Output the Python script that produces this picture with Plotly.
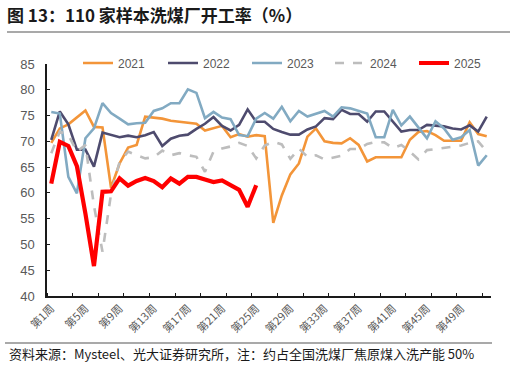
import plotly.graph_objects as go

weeks = list(range(1, 53))
tick_weeks = [1, 5, 9, 13, 17, 21, 25, 29, 33, 37, 41, 45, 49]
tick_labels = [f"第{w}周" for w in tick_weeks]

y2021 = [69.7, 72.5, 73.3, 74.6, 76.0, 72.8, 72.7, 61.0, 65.7, 68.8, 69.3, 74.8, 74.6, 74.4,
         74.0, 73.8, 73.6, 73.4, 72.1, 72.6, 73.0, 70.8, 71.4, 70.9, 71.2, 71.0, 54.2, 59.5,
         63.6, 65.7, 70.9, 72.5, 70.0, 69.7, 69.6, 70.6, 69.3, 66.1, 66.9, 66.9, 66.9, 66.9,
         70.3, 71.8, 72.0, 71.2, 70.1, 70.1, 70.1, 73.7, 71.4, 71.0]
y2022 = [70.3, 75.8, 73.3, 68.4, 68.4, 65.1, 71.7, 71.2, 70.8, 71.1, 70.8, 71.2, 71.8, 69.1,
         70.5, 71.1, 71.3, 72.4, 73.4, 74.7, 73.0, 72.1, 73.2, 76.2, 73.8, 73.8, 72.4, 71.8,
         71.3, 71.3, 72.3, 72.9, 74.5, 74.3, 76.1, 75.3, 75.3, 73.8, 75.8, 75.8, 73.8, 71.9,
         72.2, 72.2, 73.2, 73.1, 72.9, 72.5, 72.3, 73.1, 71.9, 74.8]
y2023 = [75.7, 75.4, 63.1, 59.9, 70.6, 72.5, 77.4, 75.5, 74.4, 73.3, 73.5, 73.6, 75.9, 76.4,
         77.4, 77.4, 80.1, 79.4, 74.5, 75.7, 74.6, 74.3, 71.2, 71.0, 74.4, 75.5, 74.4, 76.7,
         73.9, 75.9, 74.8, 75.3, 75.9, 74.8, 76.6, 76.4, 75.9, 75.4, 70.8, 70.8, 76.1, 73.1,
         74.8, 72.6, 70.6, 73.9, 72.5, 70.3, 70.8, 72.2, 65.3, 67.3]
y2024 = [67.7, 71.9, 71.2, 68.0, 69.3, 57.5, 48.6, 59.8, 66.0, 68.0, 67.3, 66.7, 66.9, 68.2,
         67.3, 67.7, 67.3, 67.0, 64.1, 68.0, 68.6, 69.0, 69.7, 69.1, 66.7, 69.2, 69.9, 69.4,
         66.6, 68.6, 67.0, 67.3, 66.5, 66.9, 67.2, 68.5, 68.5, 69.5, 69.9, 69.8, 68.7, 69.3,
         68.0, 66.5, 68.3, 68.5, 68.7, 69.0, 69.2, 69.7, 70.0, 68.0]
y2025 = [61.8, 69.9, 69.1, 65.2, 56.0, 45.8, 60.2, 60.3, 62.8, 61.4, 62.3, 62.9, 62.3, 61.1,
         62.8, 61.8, 63.1, 63.1, 62.6, 62.1, 62.4, 61.6, 60.6, 57.3, 61.5]

series = [
    ("2021", y2021, "#F39539", 2.6, "solid"),
    ("2022", y2022, "#4E4B6E", 2.6, "solid"),
    ("2023", y2023, "#82AAC2", 2.6, "solid"),
    ("2024", y2024, "#BDBDBD", 2.6, "dash"),
    ("2025", y2025, "#FF0000", 4.2, "solid"),
]
legend_text_x = [118, 203, 287, 370, 454]

L, R, T, B = 47, 25, 64, 69
W, H = 516, 365
pw, ph = W - L - R, H - T - B

def px_x(p):
    return (p - L) / pw

def px_y(p):
    return (H - B - p) / ph

fig = go.Figure()
legend_layouts = {}
for i, (name, ys, color, width, dash) in enumerate(series):
    key = "legend" if i == 0 else f"legend{i + 1}"
    fig.add_trace(go.Scatter(
        x=weeks[:len(ys)], y=ys, mode="lines", name=name, legend=key,
        line=dict(color=color, width=width, dash=dash),
    ))
    legend_layouts[key] = dict(
        orientation="h", xref="container", yref="container",
        x=(legend_text_x[i] - 40) / W, xanchor="left",
        y=1 - 63 / H, yanchor="middle",
        font=dict(family="Liberation Sans, Noto Sans CJK SC", size=12, color="#595959"),
        bgcolor="rgba(0,0,0,0)", borderwidth=0,
    )

axis_font = dict(family="Liberation Sans, Noto Sans CJK SC", size=13, color="#595959")

fig.update_layout(
    width=W, height=H,
    margin=dict(l=L, r=R, t=T, b=B, autoexpand=False),
    paper_bgcolor="white", plot_bgcolor="white",
    showlegend=True,
    title=dict(
        text="<b>图 13：110 家样本洗煤厂开工率（%）</b>",
        x=7 / W, xref="container", xanchor="left",
        y=1 - 16 / H, yref="container", yanchor="middle",
        font=dict(family="Noto Sans CJK SC", size=17, color="#1a1a1a"),
    ),
    xaxis=dict(
        range=[0.5, 52.5], tickvals=tick_weeks, ticktext=tick_labels,
        tickangle=-45, ticks="", showgrid=False, zeroline=False, automargin=False,
        showline=True, linecolor="#1a1a1a", linewidth=1.5,
        tickfont=dict(family="Noto Sans CJK SC, Liberation Sans", size=11, color="#595959"),
        minor=dict(tickvals=[0.5 + 3 * k for k in range(18)], ticks="inside",
                   ticklen=3, tickcolor="#1a1a1a", tickwidth=1.2, showgrid=False),
    ),
    yaxis=dict(
        range=[40, 85], dtick=5, showgrid=False, zeroline=False, automargin=False,
        showline=True, linecolor="#1a1a1a", linewidth=1.5,
        ticks="inside", ticklen=3, tickcolor="#1a1a1a", tickwidth=1.2,
        tickfont=axis_font, ticklabelstandoff=8,
    ),
    annotations=[
        dict(text="资料来源：Mysteel、光大证券研究所，注：约占全国洗煤厂焦原煤入洗产能 50%",
             xref="paper", yref="paper", x=px_x(7), y=px_y(353),
             xanchor="left", yanchor="middle", showarrow=False,
             font=dict(family="Noto Sans CJK SC", size=13, color="#1a1a1a")),
    ],
    **legend_layouts,
)

# thin rules under the title and above the source note, as filled rectangles
for x_left, x_right, y_px in [(7, 510, 32), (5, 492, 343)]:
    fig.add_shape(type="rect", xref="paper", yref="paper", layer="above",
                  x0=px_x(x_left), x1=px_x(x_right),
                  y0=px_y(y_px + 0.6), y1=px_y(y_px - 0.6),
                  fillcolor="#555555", line=dict(width=0))

fig.write_html("out.html", config={"displayModeBar": False},
               post_script="document.body.style.margin='0';")
